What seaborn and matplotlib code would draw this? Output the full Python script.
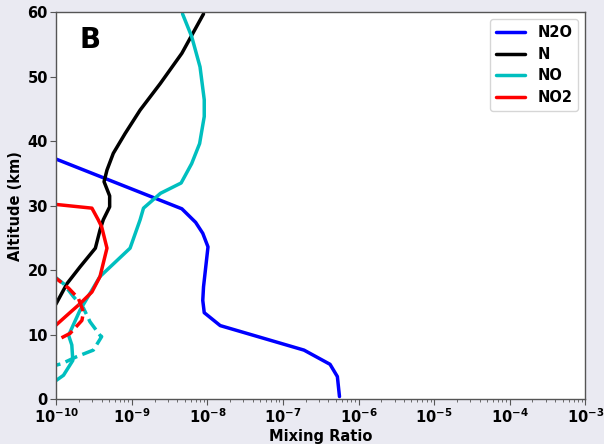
import matplotlib
matplotlib.use("Agg")
import matplotlib.pyplot as plt
import seaborn as sns

# altitude (km) / mixing ratio
n2o_alt = [40.0, 37.2, 29.5, 27.4, 25.7, 23.6, 17.4, 15.3, 13.4, 11.4, 7.6, 5.4, 3.5, 0.4]
n2o_mr = [2.5e-11, 1.0e-10, 4.6e-9, 7.0e-9, 8.7e-9, 1.02e-8, 8.9e-9, 8.7e-9, 9.1e-9,
          1.48e-8, 1.9e-7, 4.2e-7, 5.25e-7, 5.6e-7]

n_alt = [59.7, 53.6, 48.9, 44.8, 41.2, 38.1, 35.5, 33.7, 31.5, 29.8, 27.8, 26.2, 23.4,
         20.5, 17.9, 14.8, 13.0]
n_mr = [8.9e-9, 4.6e-9, 2.38e-9, 1.29e-9, 8.2e-10, 5.7e-10, 4.7e-10, 4.3e-10, 5.1e-10,
        5.1e-10, 4.2e-10, 3.8e-10, 3.3e-10, 2.07e-10, 1.39e-10, 1.0e-10, 8.0e-11]

no_alt = [59.7, 56.2, 51.5, 46.4, 43.8, 39.6, 36.5, 33.5, 31.9, 29.6, 27.8, 23.4, 19.0,
          13.8, 9.9, 8.4, 6.0, 3.7, 2.9, 2.0]
no_mr = [4.7e-9, 6.2e-9, 8.0e-9, 9.1e-9, 9.1e-9, 7.9e-9, 6.2e-9, 4.5e-9, 2.4e-9, 1.43e-9,
         1.29e-9, 9.5e-10, 3.8e-10, 2.07e-10, 1.46e-10, 1.61e-10, 1.66e-10, 1.25e-10,
         1.0e-10, 8.0e-11]

no2_alt = [30.2, 29.6, 27.8, 26.7, 23.4, 19.0, 16.6, 14.8, 13.0, 11.5, 10.5]
no2_mr = [9.5e-11, 2.97e-10, 3.6e-10, 4.0e-10, 4.7e-10, 3.8e-10, 2.97e-10, 2.07e-10,
          1.39e-10, 1.0e-10, 8.0e-11]

# dashed profiles (no legend entry)
no_d_alt = [19.0, 17.9, 15.9, 14.1, 12.0, 9.9, 9.7, 7.6, 6.6, 5.5, 5.3, 5.0]
no_d_mr = [9.5e-11, 1.25e-10, 1.69e-10, 2.3e-10, 2.8e-10, 3.8e-10, 4.0e-10, 3.1e-10,
           1.88e-10, 1.19e-10, 1.02e-10, 9.0e-11]

no2_d_alt = [19.5, 18.8, 17.2, 15.6, 13.5, 12.2, 10.2, 9.4]
no2_d_mr = [9.0e-11, 9.8e-11, 1.46e-10, 1.97e-10, 2.3e-10, 2.19e-10, 1.53e-10, 1.13e-10]

sns.set_style("white")
plt.rcParams['font.weight'] = 'bold'
plt.rcParams['axes.labelweight'] = 'bold'
plt.rcParams['text.color'] = 'black'
plt.rcParams['axes.labelcolor'] = 'black'
plt.rcParams['xtick.color'] = 'black'
plt.rcParams['ytick.color'] = 'black'

fig = plt.figure(figsize=(6.04, 4.44), dpi=100, facecolor='#eaeaf2')
ax = fig.add_axes([0.093, 0.101, 0.876, 0.872])
ax.set_facecolor('white')

lw = 2.5
sns.lineplot(x=n2o_mr, y=n2o_alt, sort=False, estimator=None, color='#0000ff', lw=lw, label='N2O', ax=ax)
sns.lineplot(x=n_mr, y=n_alt, sort=False, estimator=None, color='black', lw=lw, label='N', ax=ax)
sns.lineplot(x=no_mr, y=no_alt, sort=False, estimator=None, color='#00bfbf', lw=lw, label='NO', ax=ax)
sns.lineplot(x=no2_mr, y=no2_alt, sort=False, estimator=None, color='#ff0000', lw=lw, label='NO2', ax=ax)
sns.lineplot(x=no_d_mr, y=no_d_alt, sort=False, estimator=None, color='#00bfbf', lw=lw,
             linestyle='--', ax=ax)
sns.lineplot(x=no2_d_mr, y=no2_d_alt, sort=False, estimator=None, color='#ff0000', lw=lw,
             linestyle='--', ax=ax)

ax.set_xscale('log')
ax.set_xlim(1e-10, 1e-3)
ax.set_ylim(0, 60)
ax.set_xlabel('Mixing Ratio', fontsize=10.5, fontweight='bold', labelpad=2)
ax.set_ylabel('Altitude (km)', fontsize=10.5, fontweight='bold', labelpad=3)
ax.tick_params(axis='both', which='major', labelsize=10.5, length=4, direction='out',
               bottom=True, left=True, color='#555555', pad=2)
ax.tick_params(axis='x', which='minor', length=2, bottom=True, color='#555555')
for lab in ax.get_xticklabels() + ax.get_yticklabels():
    lab.set_fontweight('bold')
for s in ax.spines.values():
    s.set_color('#555555')
    s.set_linewidth(1.0)

ax.text(0.045, 0.965, 'B', transform=ax.transAxes, fontsize=20, fontweight='bold',
        va='top', ha='left')

leg = ax.legend(loc='upper right', prop={'weight': 'bold', 'size': 10.5}, frameon=True,
                handlelength=2.0, labelspacing=0.45)

fig.savefig('out.png', dpi=100, facecolor=fig.get_facecolor())
